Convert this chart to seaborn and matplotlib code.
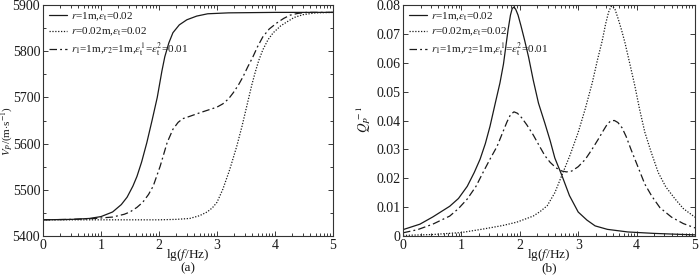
import numpy as np
import pandas as pd
import matplotlib
matplotlib.use("Agg")
import matplotlib.pyplot as plt
from matplotlib.ticker import MultipleLocator, FixedLocator
import seaborn as sns

# ---------------- data ----------------
labels = [r"$r$=1m,$\varepsilon_{\rm t}$=0.02",
          r"$r$=0.02m,$\varepsilon_{\rm t}$=0.02",
          r"$r_1$=1m,$r_2$=1m,$\varepsilon_{\rm t}^1$=$\varepsilon_{\rm t}^2$=0.01"]

# (a) P-wave velocity
va_solid_x = [0, 0.5, 0.8, 1.0, 1.2, 1.35, 1.45, 1.55, 1.62, 1.7, 1.79, 1.88, 1.97,
              2.05, 2.10, 2.17, 2.24, 2.35, 2.48, 2.65, 2.84, 3.2, 4.0, 5.0]
va_solid_y = [5435, 5436, 5438, 5442, 5452, 5468, 5484, 5508, 5529, 5560, 5602, 5650, 5700,
              5757, 5788, 5818, 5840, 5857, 5868, 5876, 5881, 5883, 5884, 5884]

va_dot_x = [0, 1.0, 2.0, 2.3, 2.53, 2.7, 2.83, 2.92, 3.0, 3.10, 3.22, 3.34, 3.43, 3.53,
            3.6, 3.66, 3.72, 3.79, 3.88, 3.97, 4.1, 4.2, 4.33, 4.48, 4.7, 5.0]
va_dot_y = [5435, 5435, 5435, 5436, 5438, 5444, 5452, 5461, 5473, 5501, 5544, 5594, 5637, 5690,
            5727, 5755, 5780, 5803, 5825, 5840, 5855, 5863, 5873, 5879, 5883, 5884]

va_dd_x = [0, 0.5, 0.9, 1.2, 1.4, 1.5, 1.62, 1.72, 1.82, 1.9, 2.02, 2.14, 2.24, 2.33, 2.41,
           2.53, 2.71, 2.88, 3.0, 3.10, 3.2, 3.28, 3.37, 3.45, 3.53, 3.62, 3.7, 3.79, 3.9,
           4.03, 4.15, 4.26, 4.4, 4.55, 5.0]
va_dd_y = [5435, 5436, 5438, 5441, 5447, 5452, 5462, 5473, 5490, 5508, 5551, 5602, 5631, 5646, 5654,
           5659, 5667, 5674, 5679, 5686, 5697, 5710, 5727, 5745, 5766, 5788, 5810, 5831, 5848,
           5861, 5871, 5878, 5882, 5884, 5884]

# (b) attenuation Q^-1
qb_solid_x = [0, 0.29, 0.51, 0.8, 0.95, 1.1, 1.22, 1.32, 1.41, 1.49, 1.58, 1.66, 1.72, 1.76,
              1.80, 1.84, 1.87, 1.90, 1.93, 1.97, 2.02, 2.08, 2.15, 2.23, 2.32, 2.43, 2.52,
              2.6, 2.72, 2.85, 3.0, 3.15, 3.29, 3.5, 3.85, 4.3, 4.7, 5.0]
qb_solid_y = [0.0022, 0.0041, 0.0066, 0.0103, 0.013, 0.0172, 0.022, 0.0266, 0.032, 0.038, 0.046,
              0.053, 0.0595, 0.0655, 0.0715, 0.0765, 0.0788, 0.0793, 0.0785, 0.0765, 0.0728,
              0.068, 0.062, 0.054, 0.046, 0.039, 0.033, 0.027, 0.021, 0.014, 0.0083, 0.0055,
              0.0035, 0.0023, 0.0014, 0.0009, 0.0006, 0.0004]

qb_dot_x = [0, 0.5, 1.0, 1.37, 1.7, 1.95, 2.23, 2.35, 2.47, 2.6, 2.72, 2.86, 3.0, 3.12, 3.24,
            3.33, 3.41, 3.47, 3.52, 3.56, 3.59, 3.63, 3.68, 3.74, 3.8, 3.88, 3.97, 4.05, 4.14,
            4.25, 4.37, 4.5, 4.66, 4.8, 5.0]
qb_dot_y = [0.0002, 0.0005, 0.0012, 0.0024, 0.0036, 0.0048, 0.0069, 0.0085, 0.0105, 0.015, 0.021,
            0.028, 0.0359, 0.044, 0.053, 0.061, 0.0675, 0.0735, 0.0775, 0.0794, 0.0796, 0.0785,
            0.0755, 0.0715, 0.067, 0.060, 0.052, 0.044, 0.036, 0.029, 0.022, 0.017, 0.0128,
            0.0095, 0.0065]

qb_dd_x = [0, 0.25, 0.51, 0.8, 0.95, 1.1, 1.25, 1.37, 1.5, 1.61, 1.7, 1.78, 1.84, 1.9, 1.96,
           2.03, 2.12, 2.23, 2.34, 2.43, 2.52, 2.62, 2.72, 2.8, 2.89, 3.0, 3.12, 3.23, 3.34,
           3.43, 3.5, 3.56, 3.62, 3.68, 3.75, 3.82, 3.9, 4.02, 4.14, 4.26, 4.4, 4.6, 4.8, 5.0]
qb_dd_y = [0.0011, 0.0022, 0.0041, 0.0069, 0.0095, 0.0128, 0.0172, 0.022, 0.027, 0.031, 0.0355,
           0.0395, 0.042, 0.043, 0.0425, 0.041, 0.0385, 0.035, 0.031, 0.0278, 0.0255, 0.0236,
           0.0225, 0.0222, 0.0225, 0.024, 0.0265, 0.0298, 0.0334, 0.0365, 0.0388, 0.0399,
           0.0400, 0.0393, 0.0375, 0.0345, 0.0302, 0.0241, 0.018, 0.0138, 0.0098, 0.0065,
           0.0043, 0.0028]

xticks = [0, 1, 2, 3, 4, 5]
va_ticks = [5400, 5500, 5600, 5700, 5800, 5900]
qb_ticks = [0, 0.01, 0.02, 0.03, 0.04, 0.05, 0.06, 0.07, 0.08]
qb_ticklabels = ["0", "0.01", "0.02", "0.03", "0.04", "0.05", "0.06", "0.07", "0.08"]

# ---------------- style ----------------
sns.set_style("ticks")
plt.rcParams["font.family"] = ["Liberation Serif", "DejaVu Serif"]
plt.rcParams["mathtext.fontset"] = "stix"
plt.rcParams["xtick.direction"] = "in"
plt.rcParams["ytick.direction"] = "in"

ink = "#1a1a1a"
styles = ["-", (0, (1, 1.3)), (0, (6, 2.5, 1.5, 2.5))]

fig = plt.figure(figsize=(7.0, 2.76), dpi=100)
axa = fig.add_axes([43 / 700, 40 / 276, 290 / 700, 231 / 276])
axb = fig.add_axes([403 / 700, 40 / 276, 292 / 700, 231 / 276])

minor_x = [d + np.log10(k) for d in range(5) for k in range(2, 10)]


def draw(ax, series):
    for (x, y), lab, ls in zip(series, labels, styles):
        df = pd.DataFrame({"x": x, "y": y})
        sns.lineplot(data=df, x="x", y="y", ax=ax, color=ink, lw=0.9,
                     linestyle=ls, label=lab, estimator=None)
    ax.set_xlim(0, 5)
    ax.set_xticks(xticks)
    ax.xaxis.set_minor_locator(FixedLocator(minor_x))
    ax.tick_params(which="both", top=True, right=True, labelsize=10,
                   colors=ink, width=0.6, pad=2)
    ax.tick_params(which="major", length=3.5)
    ax.tick_params(which="minor", length=2)
    for s in ax.spines.values():
        s.set_linewidth(0.8)
        s.set_color("#333333")
    ax.set_xlabel("")
    ax.set_ylabel("")
    leg = ax.legend(loc="upper left", frameon=False, fontsize=8, handlelength=1.7,
                    handletextpad=0.3, labelspacing=0.25, borderaxespad=0.3,
                    borderpad=0.2)
    for t in leg.get_texts():
        t.set_color(ink)


draw(axa, [(va_solid_x, va_solid_y), (va_dot_x, va_dot_y), (va_dd_x, va_dd_y)])
axa.set_ylim(5400, 5900)
axa.set_yticks(va_ticks)
axa.yaxis.set_minor_locator(MultipleLocator(50))

draw(axb, [(qb_solid_x, qb_solid_y), (qb_dot_x, qb_dot_y), (qb_dd_x, qb_dd_y)])
axb.set_ylim(0, 0.08)
axb.set_yticks(qb_ticks)
axb.set_yticklabels(qb_ticklabels)
axb.yaxis.set_minor_locator(FixedLocator([]))

# axis titles
for ax, tag in [(axa, "(a)"), (axb, "(b)")]:
    ax.text(0.5, -19 / 231, r"lg($f$/Hz)", transform=ax.transAxes, ha="center", va="center",
            fontsize=9.5, color=ink)
    ax.text(0.5, -32 / 231, tag, transform=ax.transAxes, ha="center", va="center",
            fontsize=9.5, color=ink)

fig.text(7.5 / 700, 1 - 131 / 276, r"$V_P$/(m$\cdot$s$^{-1}$)", rotation=90,
         ha="center", va="center", fontsize=8, color=ink)
fig.text(364 / 700, 1 - 120 / 276, r"$Q_P^{\,-1}$", rotation=90,
         ha="center", va="center", fontsize=9.5, color=ink)

fig.savefig("out.png", dpi=100)
